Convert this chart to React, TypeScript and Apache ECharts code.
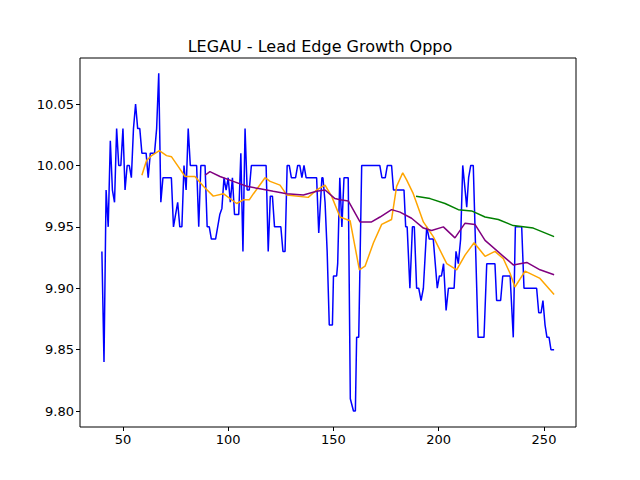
import React, { useEffect, useRef } from "react";
import * as echarts from "echarts";

const priceX = [40,41,42,43,44,45,46,47,48,49,50,51,52,53,54,55,56,57,58,59,61,62,63,65,66,67,68,69,73,74,76,77,78,79,80,81,82,85,86,87,89,90,91,92,94,95,96,97,98,99,100,101,102,103,105,106,107,108,109,110,111,118,119,120,121,122,125,126,127,128,129,130,132,133,134,135,136,137,142,143,144.5,145,146,147,148,149.5,150,151.5,152,153,154,155,157,158,159.5,160.4,161,162,163.4,172,173,174.6,175.6,177.6,178.5,183.5,184.3,185,186.3,187.5,188.4,189.5,190.5,191.6,192.7,194.3,195.5,197.4,199.3,200.3,201.3,202.3,203.5,204.6,207.3,208.2,209.3,210.4,211.4,213.3,214.2,215.2,216.4,218.7,221.5,222.8,226.7,227.5,229.4,230.4,233.9,235.4,236.4,239.4,240.5,246.5,247.5,248.6,249.5,250.5,251.4,252.4,253.3,254.8];
const priceY = [9.93,9.84,9.98,9.95,10.02,9.98,9.97,10.03,10.0,10.0,10.03,9.98,10.0,10.0,9.99,10.03,10.05,10.03,10.03,10.01,10.01,9.99,10.01,10.01,10.03,10.075,9.97,9.99,9.99,9.95,9.97,9.95,9.95,10.0,9.98,10.03,10.0,10.0,9.95,10.0,10.0,9.95,9.95,9.94,9.94,9.95,9.96,9.965,9.99,9.98,9.99,9.97,9.99,9.96,9.96,10.01,9.93,10.03,9.98,9.98,10.0,10.0,9.93,9.975,9.975,9.95,9.95,9.93,9.93,10.0,10.0,9.99,9.99,10.0,10.0,9.99,10.0,9.99,9.99,9.945,9.99,9.99,9.97,9.93,9.87,9.87,9.91,9.91,9.92,9.99,9.95,9.99,9.99,9.81,9.80,9.80,9.86,9.86,10.0,10.0,9.99,9.99,10.0,10.0,9.98,9.98,9.95,9.95,9.90,9.95,9.95,9.90,9.90,9.89,9.90,9.95,9.94,9.94,9.90,9.91,9.91,9.92,9.882,9.90,9.90,9.93,9.92,9.94,10.0,9.966,9.99,10.0,10.0,9.86,9.86,9.92,9.92,9.89,9.89,9.91,9.91,9.86,9.95,9.95,9.90,9.90,9.88,9.88,9.89,9.87,9.86,9.86,9.85,9.85];

const orangeX = [59,61.2,63.6,67.3,70.7,73.1,76.3,79.5,84.2,88.2,92.9,97.7,104,107.2,110,112,117.5,119.9,124.6,127.8,138,142,146,149.1,153.1,157.9,162.3,165,169,172.9,177.6,180,182.9,184.8,187.9,192.7,197.4,203.8,208.5,212.5,216.8,222,226.7,230.7,233.9,236.2,241,248.1,254.8];
const orangeY = [9.992,10.004,10.008,10.012,10.008,10.007,9.999,9.991,9.991,9.983,9.975,9.977,9.969,9.972,9.972,9.977,9.99,9.987,9.984,9.976,9.974,9.98,9.984,9.975,9.958,9.955,9.915,9.918,9.937,9.952,9.956,9.983,9.994,9.988,9.977,9.954,9.942,9.92,9.915,9.927,9.937,9.926,9.930,9.924,9.912,9.901,9.914,9.908,9.895];

const purpleX = [89,91.3,96.1,102.4,108.8,115.1,121.4,127.8,135.7,142,146,150.7,153.1,157.1,162.6,168.1,172.1,177.6,181.6,187.1,192.7,196.6,202.2,207.7,212.5,217.2,222,230.7,235.4,241.8,248.1,254.8];
const purpleY = [9.992,9.995,9.991,9.987,9.983,9.981,9.979,9.977,9.976,9.979,9.98,9.973,9.972,9.971,9.954,9.954,9.958,9.964,9.962,9.957,9.949,9.947,9.95,9.941,9.953,9.952,9.939,9.926,9.919,9.921,9.915,9.911];

const greenX = [189.2,195.9,203,209.3,215.6,222,228.3,235.4,244.9,254.8];
const greenY = [9.975,9.973,9.969,9.964,9.963,9.958,9.956,9.951,9.949,9.942];

const xTicks = [50, 100, 150, 200, 250];
const yTicks = [9.8, 9.85, 9.9, 9.95, 10.0, 10.05];

const zip = (xs: number[], ys: number[]) => xs.map((x, i) => [x, ys[i]]);

export default function App() {
  const ref = useRef<HTMLDivElement>(null);
  useEffect(() => {
    const chart = echarts.init(ref.current!, null, { renderer: "svg" });
    const line = (data: number[][], color: string) => ({
      type: "line", data, showSymbol: false, symbol: "none",
      lineStyle: { color, width: 1.5 }, itemStyle: { color },
    });
    const font = "DejaVu Sans";
    chart.setOption({
      animation: false,
      backgroundColor: "#fff",
      title: {
        text: "LEGAU - Lead Edge Growth Oppo", left: "center", top: 33,
        textStyle: { fontFamily: font, fontSize: 16, fontWeight: "normal", color: "#000" },
      },
      grid: { left: 80, right: 64, top: 58, bottom: 53, show: true, borderColor: "#000", borderWidth: 1 },
      xAxis: {
        type: "value", min: 29.6, max: 265.2,
        splitLine: { show: false },
        axisLine: { show: false },
        axisTick: { show: true, customValues: xTicks, length: 4, lineStyle: { color: "#000" } },
        axisLabel: { customValues: xTicks, color: "#000", fontFamily: font, fontSize: 13, margin: 6 },
      },
      yAxis: {
        type: "value", min: 9.787, max: 10.0875,
        splitLine: { show: false },
        axisLine: { show: false },
        axisTick: { show: true, customValues: yTicks, length: 4, lineStyle: { color: "#000" } },
        axisLabel: { customValues: yTicks, color: "#000", fontFamily: font, fontSize: 13, margin: 6,
          formatter: (v: number) => v.toFixed(2) },
      },
      series: [
        line(zip(priceX, priceY), "#0000ff"),
        line(zip(orangeX, orangeY), "#ffa500"),
        line(zip(purpleX, purpleY), "#800080"),
        line(zip(greenX, greenY), "#008000"),
      ],
    });
    return () => chart.dispose();
  }, []);
  return <div ref={ref} style={{ position: "fixed", left: 0, top: 0, width: 640, height: 480 }} />;
}
